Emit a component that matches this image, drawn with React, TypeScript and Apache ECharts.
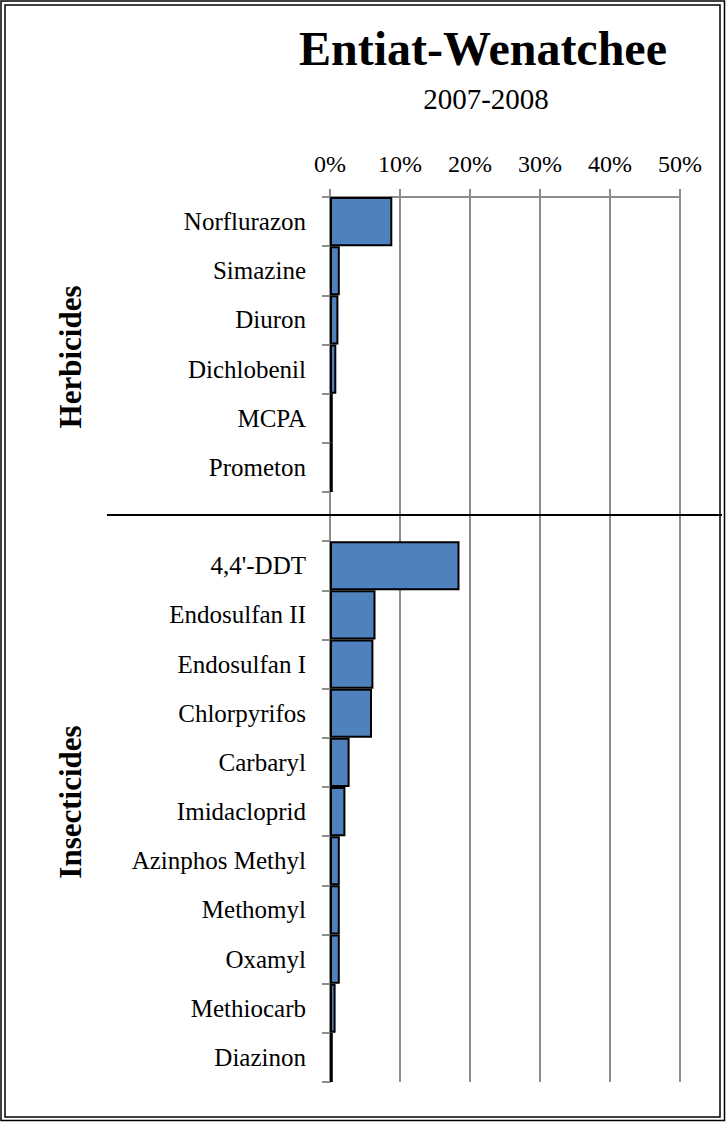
import React, { useEffect, useRef } from "react";
import * as echarts from "echarts";

const categories: string[] = [
  "Norflurazon", "Simazine", "Diuron", "Dichlobenil", "MCPA", "Prometon",
  "",
  "4,4'-DDT", "Endosulfan II", "Endosulfan I", "Chlorpyrifos", "Carbaryl",
  "Imidacloprid", "Azinphos Methyl", "Methomyl", "Oxamyl", "Methiocarb", "Diazinon",
];
const values: (number | null)[] = [
  8.9, 1.4, 1.2, 0.9, 0.4, 0.4,
  null,
  18.5, 6.5, 6.2, 6.0, 2.8,
  2.2, 1.4, 1.4, 1.4, 0.8, 0.4,
];
const groupLabels: string[] = ["Herbicides", "Insecticides"];
const titleText = "Entiat-Wenatchee";
const subtitleText = "2007-2008";
const valueMin = 0;
const valueMax = 50;
const valueInterval = 10;

const FONT = "'Liberation Serif', 'Times New Roman', serif";

export default function App() {
  const ref = useRef<HTMLDivElement>(null);
  useEffect(() => {
    document.body.style.margin = "0";
    if (!ref.current) return;
    const chart = echarts.init(ref.current, undefined, { renderer: "svg" });
    const gridLeft = 330;
    const gridTop = 197;
    const gridRight = 680;
    const gridBottom = 1082;
    chart.setOption({
      animation: false,
      backgroundColor: "#ffffff",
      grid: {
        left: gridLeft,
        top: gridTop,
        width: gridRight - gridLeft,
        height: gridBottom - gridTop,
        containLabel: false,
      },
      xAxis: {
        type: "value",
        position: "top",
        min: valueMin,
        max: valueMax,
        interval: valueInterval,
        axisLine: { show: true, lineStyle: { color: "#8c8c8c", width: 2 } },
        axisTick: { show: true, length: 8, lineStyle: { color: "#8c8c8c", width: 2 } },
        splitLine: { show: true, lineStyle: { color: "#8c8c8c", width: 2 } },
        axisLabel: {
          formatter: (v: number) => `${v}%`,
          color: "#000",
          fontFamily: FONT,
          fontSize: 24,
          margin: 21,
        },
      },
      yAxis: {
        type: "category",
        data: categories,
        inverse: true,
        boundaryGap: true,
        axisLine: { show: true, lineStyle: { color: "#8c8c8c", width: 2 } },
        axisTick: { show: true, length: 8, alignWithLabel: false, lineStyle: { color: "#8c8c8c", width: 2 } },
        splitLine: { show: false },
        axisLabel: {
          color: "#000",
          fontFamily: FONT,
          fontSize: 25,
          margin: 24,
          interval: 0,
        },
      },
      series: [
        {
          type: "bar",
          data: values,
          barCategoryGap: "0%",
          itemStyle: { color: "#4F81BD", borderColor: "#000", borderWidth: 2 },
        },
      ],
      graphic: [
        { type: "rect", shape: { x: 1, y: 1, width: 723.5, height: 1119.5 }, style: { fill: "none", stroke: "#000", lineWidth: 1.5 }, silent: true },
        { type: "rect", shape: { x: 5, y: 5, width: 715, height: 1112 }, style: { fill: "none", stroke: "#000", lineWidth: 1.5 }, silent: true },
        {
          type: "text", x: 483, y: 48,
          style: { text: titleText, font: `bold 48px ${FONT}`, fill: "#000", align: "center", verticalAlign: "middle" },
        },
        {
          type: "text", x: 486, y: 99,
          style: { text: subtitleText, font: `29px ${FONT}`, fill: "#000", align: "center", verticalAlign: "middle" },
        },
        { type: "line", shape: { x1: 107, y1: 515, x2: 722, y2: 515 }, style: { stroke: "#000", lineWidth: 2 }, z: 10 },
        {
          type: "text", x: 70, y: 357, rotation: Math.PI / 2,
          style: { text: groupLabels[0], font: `bold 31px ${FONT}`, fill: "#000", align: "center", verticalAlign: "middle" },
        },
        {
          type: "text", x: 70, y: 802, rotation: Math.PI / 2,
          style: { text: groupLabels[1], font: `bold 31px ${FONT}`, fill: "#000", align: "center", verticalAlign: "middle" },
        },
      ],
    });
    return () => chart.dispose();
  }, []);
  return <div ref={ref} style={{ width: 726, height: 1122 }} />;
}
